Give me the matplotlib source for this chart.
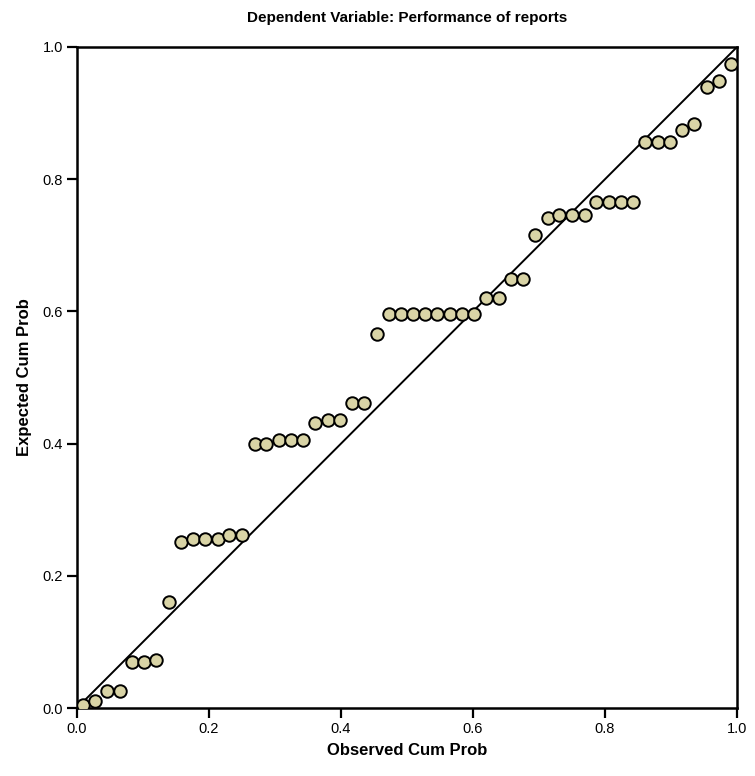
import matplotlib
matplotlib.use("Agg")
import matplotlib.pyplot as plt

plt.rcParams['font.family'] = ['Liberation Sans', 'DejaVu Sans']

# Observed cumulative probabilities (P-P plot of residuals)
observed = [0.009, 0.028, 0.046, 0.065, 0.083, 0.102, 0.120, 0.139, 0.157,
            0.176, 0.194, 0.213, 0.231, 0.250, 0.269, 0.287, 0.306, 0.324,
            0.343, 0.361, 0.380, 0.398, 0.417, 0.435, 0.454, 0.472, 0.491,
            0.509, 0.528, 0.546, 0.565, 0.583, 0.602, 0.620, 0.639, 0.657,
            0.676, 0.694, 0.713, 0.731, 0.750, 0.769, 0.787, 0.806, 0.824,
            0.843, 0.861, 0.880, 0.898, 0.917, 0.935, 0.954, 0.972, 0.991]

# Expected cumulative probabilities
expected = [0.004, 0.010, 0.026, 0.026, 0.070, 0.070, 0.072, 0.160, 0.251,
            0.256, 0.256, 0.256, 0.261, 0.261, 0.400, 0.400, 0.406, 0.406,
            0.406, 0.431, 0.436, 0.436, 0.461, 0.461, 0.566, 0.596, 0.596,
            0.596, 0.596, 0.596, 0.596, 0.596, 0.596, 0.621, 0.621, 0.649,
            0.649, 0.716, 0.741, 0.746, 0.746, 0.746, 0.765, 0.765, 0.765,
            0.765, 0.857, 0.857, 0.857, 0.874, 0.884, 0.939, 0.948, 0.974]

ticks = [0.0, 0.2, 0.4, 0.6, 0.8, 1.0]
tick_labels = ["0.0", "0.2", "0.4", "0.6", "0.8", "1.0"]

fig = plt.figure(figsize=(7.55, 7.76), dpi=100)
ax = fig.add_axes([77 / 755, 68 / 776, 660 / 755, 661 / 776])

ax.plot([0, 1], [0, 1], color='black', linewidth=1.4, zorder=2)
ax.plot(observed, expected, linestyle='none', marker='o', markersize=9,
        markerfacecolor='#d9d4a6', markeredgecolor='black',
        markeredgewidth=1.4, zorder=3)

ax.set_xlim(0, 1)
ax.set_ylim(0, 1)
ax.set_xticks(ticks)
ax.set_xticklabels(tick_labels)
ax.set_yticks(ticks)
ax.set_yticklabels(tick_labels)
ax.tick_params(axis='both', direction='out', length=7, width=1.6,
               labelsize=10.5, pad=3)

for side in ['left', 'bottom', 'top', 'right']:
    ax.spines[side].set_linewidth(1.8)

ax.set_title("Dependent Variable: Performance of reports",
             fontsize=11, fontweight='bold', pad=18)
ax.set_xlabel("Observed Cum Prob", fontsize=12, fontweight='bold', labelpad=5)
ax.set_ylabel("Expected Cum Prob", fontsize=12, fontweight='bold', labelpad=8)

fig.savefig("out.png", dpi=100)
